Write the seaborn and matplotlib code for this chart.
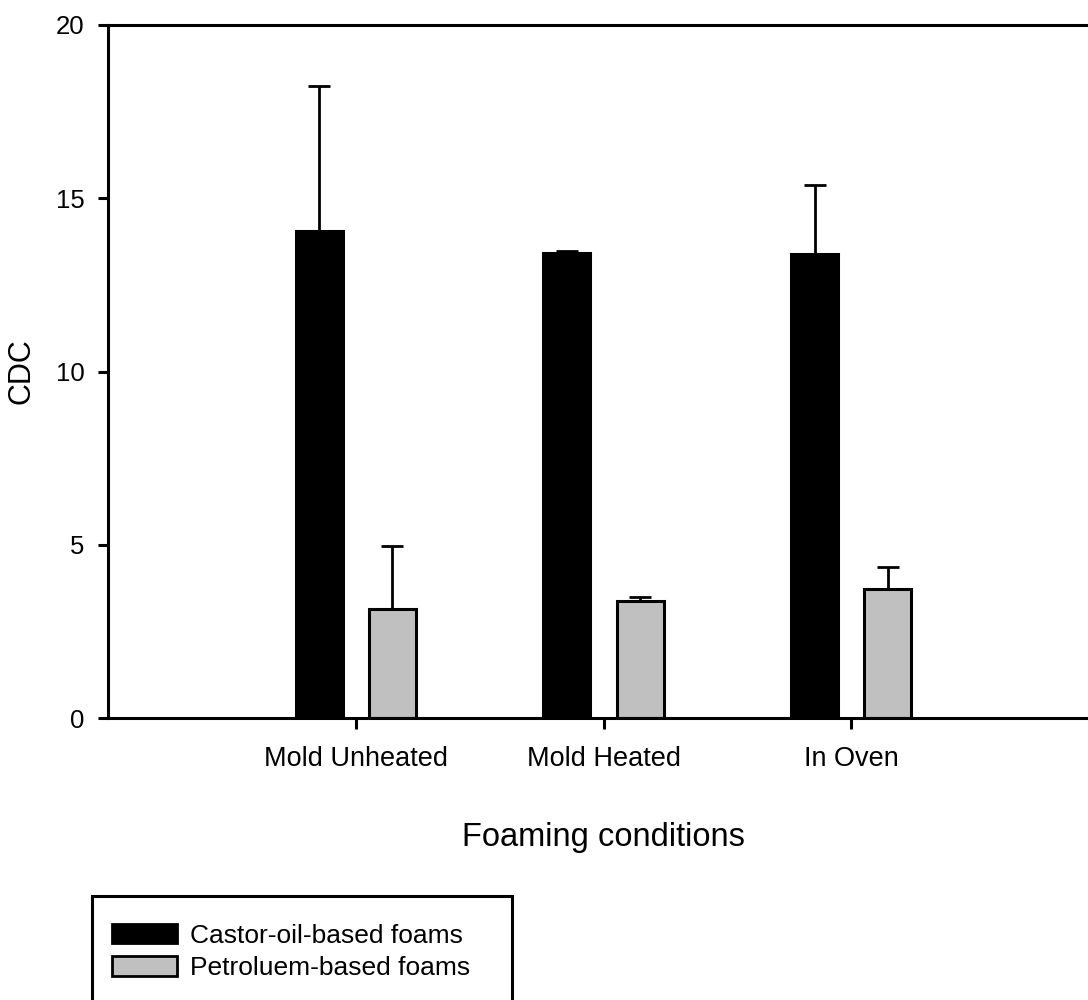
import numpy as np
import pandas as pd
import matplotlib
matplotlib.use("Agg")
import matplotlib.pyplot as plt
import seaborn as sns
from matplotlib.patches import Patch, Rectangle

conditions = ["Mold Unheated", "Mold Heated", "In Oven"]
series = ["Castor-oil-based foams", "Petroluem-based foams"]
castor_vals = [14.05, 13.42, 13.40]
castor_err = [4.20, 0.05, 1.97]
petro_vals = [3.15, 3.38, 3.71]
petro_err = [1.82, 0.10, 0.64]
colors = ["#000000", "#c0c0c0"]

df = pd.DataFrame({
    "condition": conditions * 2,
    "foam": [series[0]] * 3 + [series[1]] * 3,
    "CDC": castor_vals + petro_vals,
    "err": castor_err + petro_err,
})

sns.set_theme(style="white")
plt.rcParams["font.family"] = ["Liberation Sans", "DejaVu Sans"]
plt.rcParams["text.color"] = "black"
plt.rcParams["axes.labelcolor"] = "black"

fig = plt.figure(figsize=(10.88, 10.0), dpi=100)
ax = fig.add_axes([108 / 1088, 0.282, (1099 - 108) / 1088, 0.693])

sns.barplot(data=df, x="condition", y="CDC", hue="foam", order=conditions,
            hue_order=series, palette=colors, width=0.592, gap=0.358,
            errorbar=None, edgecolor="black", linewidth=2.2, saturation=1,
            ax=ax, legend=False)

# error bars (upper only) at bar centres
for patch in ax.patches:
    h = patch.get_height()
    if h == 0:
        continue
    xc = patch.get_x() + patch.get_width() / 2
    idx = int(np.argmin(np.abs(df["CDC"].values - h)))
    e = df["err"].values[idx]
    ax.errorbar([xc], [h], yerr=[[0], [e]], fmt="none", ecolor="black",
                elinewidth=2.0, capsize=8, capthick=2.0, zorder=5)

ax.set_xlim(-1, 3)
ax.set_ylim(0, 20)
ax.set_yticks([0, 5, 10, 15, 20])
ax.set_ylabel("CDC", fontsize=22, labelpad=14, color="black")
ax.set_xlabel("Foaming conditions", fontsize=23.5, labelpad=36, color="black")
ax.tick_params(axis="y", direction="out", length=7, width=2.2, labelsize=18.5,
               pad=10, left=True, colors="black")
ax.tick_params(axis="x", direction="out", length=8, width=2.2, labelsize=19.5,
               pad=12, bottom=True, colors="black")
for s in ["left", "bottom", "top"]:
    ax.spines[s].set_visible(True)
    ax.spines[s].set_linewidth(2.2)
    ax.spines[s].set_color("black")
ax.spines["right"].set_visible(False)

handles = [Patch(facecolor=colors[0], edgecolor="black", linewidth=2.0),
           Patch(facecolor=colors[1], edgecolor="black", linewidth=2.0)]
leg = fig.legend(handles, series, loc="upper left",
                 bbox_to_anchor=(112 / 1088, 1 - 923.5 / 1000),
                 fontsize=19, frameon=False,
                 borderpad=0, handlelength=2.46, handleheight=0.78,
                 handletextpad=0.5, labelspacing=0.32, borderaxespad=0)
for t in leg.get_texts():
    t.set_color("black")

# legend frame (extends past the bottom edge of the figure, as in the reference)
fig.patches.append(Rectangle((92 / 1088, -0.02), 420 / 1088, (1000 - 896) / 1000 + 0.02,
                             transform=fig.transFigure, fill=False,
                             edgecolor="black", linewidth=2.2, zorder=1))

fig.savefig("out.png", dpi=100)
